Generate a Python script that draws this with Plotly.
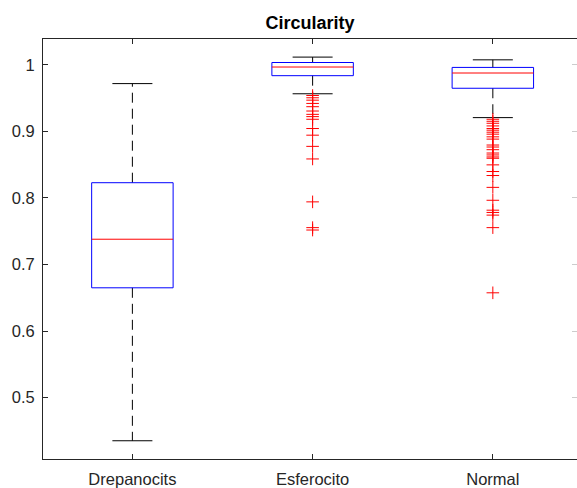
import plotly.graph_objects as go

categories = ["Drepanocits", "Esferocito", "Normal"]
q1 = [0.6649, 0.9836, 0.9647]
median = [0.7379, 0.9966, 0.9876]
q3 = [0.8228, 1.0034, 0.9960]
lower_whisker = [0.4351, 0.9564, 0.9206]
upper_whisker = [0.9717, 1.0115, 1.0074]

outliers_esferocito = [0.9538, 0.9504, 0.9468, 0.9419, 0.9370, 0.9305, 0.9255,
                       0.9221, 0.9181, 0.9042, 0.8942, 0.8774, 0.8585, 0.7940,
                       0.7553, 0.7517]
outliers_normal = [0.9181, 0.9151, 0.9121, 0.9081, 0.9042, 0.9017, 0.8987, 0.8957,
                   0.8917, 0.8883, 0.8794, 0.8764, 0.8724, 0.8674, 0.8645, 0.8615,
                   0.8595, 0.8496, 0.8396, 0.8336, 0.8158, 0.7964, 0.7815, 0.7781,
                   0.7741, 0.7553, 0.6574]
outliers = [[], outliers_esferocito, outliers_normal]

y_ticks = [0.5, 0.6, 0.7, 0.8, 0.9, 1.0]
y_tick_labels = ["0.5", "0.6", "0.7", "0.8", "0.9", "1"]

BOX_HALF = 0.226
CAP_HALF = 0.111
AX = "#262626"

positions = list(range(1, len(categories) + 1))

box_x, box_y, med_x, med_y = [], [], [], []
wh_x, wh_y, cap_x, cap_y = [], [], [], []
out_x, out_y = [], []
for p, a, m, b, lo, hi, outs in zip(positions, q1, median, q3, lower_whisker, upper_whisker, outliers):
    box_x += [p - BOX_HALF, p + BOX_HALF, p + BOX_HALF, p - BOX_HALF, p - BOX_HALF, None]
    box_y += [a, a, b, b, a, None]
    med_x += [p - BOX_HALF, p + BOX_HALF, None]
    med_y += [m, m, None]
    wh_x += [p, p, None, p, p, None]
    wh_y += [b, hi, None, a, lo, None]
    cap_x += [p - CAP_HALF, p + CAP_HALF, None, p - CAP_HALF, p + CAP_HALF, None]
    cap_y += [hi, hi, None, lo, lo, None]
    out_x += [p] * len(outs)
    out_y += outs

fig = go.Figure()
fig.add_trace(go.Scatter(x=wh_x, y=wh_y, mode="lines",
                         line=dict(color="black", width=1, dash="10px,6px"),
                         hoverinfo="skip", showlegend=False))
fig.add_trace(go.Scatter(x=cap_x, y=cap_y, mode="lines",
                         line=dict(color="black", width=1),
                         hoverinfo="skip", showlegend=False))
fig.add_trace(go.Scatter(x=box_x, y=box_y, mode="lines",
                         line=dict(color="#0000ff", width=1),
                         hoverinfo="skip", showlegend=False))
fig.add_trace(go.Scatter(x=med_x, y=med_y, mode="lines",
                         line=dict(color="#ff0000", width=1),
                         hoverinfo="skip", showlegend=False))
fig.add_trace(go.Scatter(x=out_x, y=out_y, mode="markers",
                         marker=dict(symbol="cross-thin", size=9, color="#ff0000",
                                     line=dict(color="#ff0000", width=1)),
                         showlegend=False))
# invisible trace to anchor the right-hand tick axis
fig.add_trace(go.Scatter(x=[positions[0]], y=[y_ticks[0]], yaxis="y2", mode="markers",
                         marker=dict(opacity=0), hoverinfo="skip", showlegend=False))

y_range = [0.4077, 1.0387]
fig.update_layout(
    width=577, height=488,
    margin=dict(l=43, r=0, t=39, b=25),
    paper_bgcolor="white", plot_bgcolor="white",
    font=dict(family="Liberation Sans, Arial, Helvetica, sans-serif", size=16.5, color=AX),
    title=dict(text="<b>Circularity</b>", x=0.5, xanchor="center", xref="paper",
               y=1 - 23 / 488, yanchor="middle",
               font=dict(size=18, color="black")),
    xaxis=dict(range=[0.504, 3.467], tickvals=positions, ticktext=categories,
               ticks="inside", ticklen=5, tickcolor=AX, tickwidth=1,
               showline=True, linecolor=AX, linewidth=1, mirror="ticks",
               showgrid=False, zeroline=False, ticklabelstandoff=5),
    yaxis=dict(range=y_range, tickvals=y_ticks, ticktext=y_tick_labels,
               ticks="inside", ticklen=5, tickcolor=AX, tickwidth=1,
               showline=True, linecolor=AX, linewidth=1, mirror=False,
               showgrid=False, zeroline=False, ticklabelstandoff=4),
    yaxis2=dict(range=y_range, overlaying="y", side="right", tickvals=y_ticks,
                ticks="inside", ticklen=5, tickcolor="#cccccc", tickwidth=1,
                showticklabels=False, showline=False, showgrid=False, zeroline=False),
)

fig.write_html("out.html")
